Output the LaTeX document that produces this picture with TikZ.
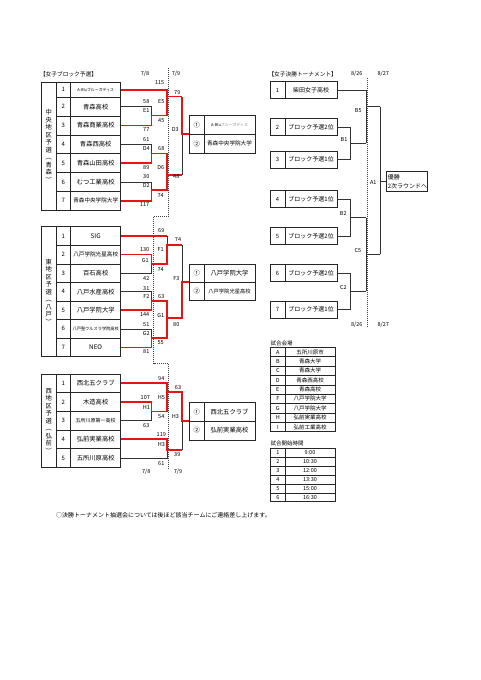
\documentclass[tikz,border=0pt]{standalone}
\usepackage{fontspec}
\setmainfont{Noto Sans CJK JP}
\usetikzlibrary{calc}
\definecolor{winred}{RGB}{232,20,20}
\begin{document}
\begin{tikzpicture}[x=1pt,y=-1pt,
  every node/.style={inner sep=0pt, outer sep=0pt},
  tsize/.style={font=\fontsize{#1}{#1}\selectfont},
  cell/.style={draw=black!85, line width=0.6pt},
  rh/.style={minimum height=#1pt},
  reg/.style={cell, minimum width=14.3pt, align=center, font=\fontsize{6.3}{7.5}\selectfont},
  num/.style={cell, minimum width=14.7pt, tsize=6},
  nm/.style={cell, minimum width=50pt, tsize=6.3},
  rnum/.style={cell, minimum width=14.7pt, tsize=6.3},
  rnm/.style={cell, minimum width=51pt, tsize=6.3},
  fnum/.style={cell, minimum width=15pt, minimum height=17pt, tsize=5.8},
  fnm/.style={cell, minimum width=52.3pt, minimum height=17pt, tsize=6},
  lbl/.style={tsize=5.5},
  hdr/.style={tsize=5.7, anchor=west},
  brk/.style={line width=0.6pt, black!80},
  win/.style={line width=1.8pt, winred},
  dotl/.style={line width=0.7pt, black!75, dash pattern=on 1pt off 1pt}]
\useasboundingbox (0,0) rectangle (481,680);
\fill[white] (0,0) rectangle (481,680);

% column x positions
\coordinate (xa) at (151.5,0);
\coordinate (xb) at (167.3,0);
\coordinate (xc) at (182,0);

% ---------------- headers ----------------
\node[hdr] (h1) at (40,74) {【女子ブロック予選】};
\node[lbl] (d78a) at (145,74.3) {7/8};
\node[lbl] (d79a) at (176,74.3) {7/9};

% date separator
\draw[dotl] (168.3,68) -- (168.3,216.5) -- (153.5,216.5) -- (153.5,363.5) -- (168.3,363.5) -- (168.3,470);

% ---------------- block 1 ----------------
\node[reg, rh=128.1] (r1) at (48.85,146.05) {中\\央\\地\\区\\予\\選\\︵\\青\\森\\︶};
\node[num, rh=15.3] (b1n1) at (63.35,89.65) {1};
\node[nm, rh=15.3, tsize=3.9] (b1t1) at (95.7,89.65) {A-Bluブルーガディス};
\node[num, rh=18.8] (b1n2) at (63.35,106.7) {2};
\node[nm, rh=18.8] (b1t2) at (95.7,106.7) {青森高校};
\node[num, rh=18.8] (b1n3) at (63.35,125.5) {3};
\node[nm, rh=18.8] (b1t3) at (95.7,125.5) {青森商業高校};
\node[num, rh=18.8] (b1n4) at (63.35,144.3) {4};
\node[nm, rh=18.8] (b1t4) at (95.7,144.3) {青森西高校};
\node[num, rh=18.8] (b1n5) at (63.35,163.1) {5};
\node[nm, rh=18.8] (b1t5) at (95.7,163.1) {青森山田高校};
\node[num, rh=18.8] (b1n6) at (63.35,181.9) {6};
\node[nm, rh=18.8] (b1t6) at (95.7,181.9) {むつ工業高校};
\node[num, rh=18.8] (b1n7) at (63.35,200.7) {7};
\node[nm, rh=18.8, tsize=5.6] (b1t7) at (95.7,200.7) {青森中央学院大学};

\node[rnum, rh=18.75] (res1n1) at (196.65,124.875) {①};
\node[rnm, rh=18.75, tsize=3.9] (res1t1) at (229.5,124.875) {A-Blu\textcolor{black!45}{ブルーガディス}};
\node[rnum, rh=18.75] (res1n2) at (196.65,143.625) {②};
\node[rnm, rh=18.75, tsize=5.6] (res1t2) at (229.5,143.625) {青森中央学院大学};

\coordinate (e1) at (151.5,115.5);
\coordinate (e5) at (167.3,96.5);
\coordinate (d4) at (151.5,153.5);
\coordinate (d2) at (151.5,190);
\coordinate (d6) at (167.3,174.7);
\coordinate (d3) at (182,134.25);

\draw[brk] (b1t2.east) -| (xa |- b1t3.east);
\draw[brk] (b1t4.east) -| (xa |- b1t5.east);
\draw[brk] (b1t6.east) -| (xa |- b1t7.east);
\draw[brk] (e5 -| xc) -- (d6 -| xc);
\draw[win] (b1t3.east) -| (e1) -- (e1 -| xb) -- (e5);
\draw[win] (b1t1.east) -| (e5) -- (e5 -| xc);
\draw[win] (b1t5.east) -| (d4) -- (d4 -| xb) -- (d6);
\draw[win] (b1t7.east) -| (d2) -- (d2 -| xb) -- (d6) -- (d6 -| xc);
\draw[win] (e5 -| xc) -- (d3) -- (res1n1.west |- d3);

\node[lbl] (l1a) at (159.7,83) {115};
\node[lbl] (l1b) at (177.3,93) {79};
\node[lbl] (l1c) at (146.3,102) {58};
\node[lbl] (l1d) at (161.3,102) {E5};
\node[lbl] (l1e) at (146.3,110.7) {E1};
\node[lbl] (l1f) at (161.3,120.7) {45};
\node[lbl] (l1g) at (146.3,129.7) {77};
\node[lbl] (l1h) at (175.3,129.7) {D3};
\node[lbl] (l1i) at (146.3,139.7) {61};
\node[lbl] (l1j) at (146.3,148.7) {D4};
\node[lbl] (l1k) at (161.3,148.7) {68};
\node[lbl] (l1l) at (146.3,167.3) {89};
\node[lbl] (l1m) at (160.7,167.3) {D6};
\node[lbl] (l1n) at (176.3,176.3) {48};
\node[lbl] (l1o) at (146.3,176.3) {30};
\node[lbl] (l1p) at (146.3,185.3) {D2};
\node[lbl] (l1q) at (160.7,195.3) {74};
\node[lbl] (l1r) at (144.7,204.7) {117};

% ---------------- block 2 ----------------
\node[reg, rh=130] (r2) at (48.85,291.7) {東\\地\\区\\予\\選\\︵\\八\\戸\\︶};
\node[num, rh=18.57] (b2n1) at (63.35,235.99) {1};
\node[nm, rh=18.57] (b2t1) at (95.7,235.99) {SIG};
\node[num, rh=18.57] (b2n2) at (63.35,254.56) {2};
\node[nm, rh=18.57, tsize=5.6] (b2t2) at (95.7,254.56) {八戸学院光星高校};
\node[num, rh=18.57] (b2n3) at (63.35,273.13) {3};
\node[nm, rh=18.57] (b2t3) at (95.7,273.13) {百石高校};
\node[num, rh=18.57] (b2n4) at (63.35,291.70) {4};
\node[nm, rh=18.57] (b2t4) at (95.7,291.70) {八戸水産高校};
\node[num, rh=18.57] (b2n5) at (63.35,310.27) {5};
\node[nm, rh=18.57] (b2t5) at (95.7,310.27) {八戸学院大学};
\node[num, rh=18.57] (b2n6) at (63.35,328.84) {6};
\node[nm, rh=18.57, tsize=4.2] (b2t6) at (95.7,328.84) {八戸聖ウルスラ学院高校};
\node[num, rh=18.57] (b2n7) at (63.35,347.41) {7};
\node[nm, rh=18.57] (b2t7) at (95.7,347.41) {NEO};

\node[rnum, rh=17.85] (res2n1) at (196.65,273.225) {①};
\node[rnm, rh=17.85] (res2t1) at (229.5,273.225) {八戸学院大学};
\node[rnum, rh=17.85] (res2n2) at (196.65,291.075) {②};
\node[rnm, rh=17.85, tsize=5.3] (res2t2) at (229.5,291.075) {八戸学院光星高校};

\coordinate (g1) at (151.5,263.9);
\coordinate (f1) at (167.3,245);
\coordinate (f2) at (151.5,301);
\coordinate (g2) at (151.5,338.1);
\coordinate (g1p) at (167.3,318.3);
\coordinate (f3) at (182,282.15);

\draw[brk] (b2t3.east) -| (xa |- b2t2.east);
\draw[brk] (xb |- b2t1.east) -- (g1 -| xb);
\draw[brk] (b2t4.east) -| (xa |- b2t5.east);
\draw[brk] (b2t6.east) -| (xa |- b2t7.east);
\draw[brk] (f1 -| xc) -- (g1p -| xc);
\draw[win] (b2t1.east) -- (xb |- b2t1.east);
\draw[win] (b2t2.east) -| (g1) -- (g1 -| xb) -- (f1) -- (f1 -| xc);
\draw[win] (b2t7.east) -| (g2) -- (g2 -| xb) -- (g1p);
\draw[win] (b2t5.east) -| (f2) -- (f2 -| xb) -- (g1p) -- (g1p -| xc) -- (f3) -- (res2n1.west |- f3);

\node[lbl] (l2a) at (161.3,231) {69};
\node[lbl] (l2b) at (178,240) {74};
\node[lbl] (l2c) at (144.7,249.3) {130};
\node[lbl] (l2d) at (160.7,249.3) {F1};
\node[lbl] (l2e) at (145.3,260) {G1};
\node[lbl] (l2f) at (160.7,269.3) {74};
\node[lbl] (l2g) at (146.3,278.3) {42};
\node[lbl] (l2h) at (176.3,278.3) {F3};
\node[lbl] (l2i) at (146.3,288.3) {31};
\node[lbl] (l2j) at (146.3,296.7) {F2};
\node[lbl] (l2k) at (161.3,296.7) {63};
\node[lbl] (l2l) at (144.7,315) {144};
\node[lbl] (l2m) at (160.7,315) {G1};
\node[lbl] (l2n) at (176.3,324.3) {80};
\node[lbl] (l2o) at (146.3,324.3) {51};
\node[lbl] (l2p) at (146.3,333.3) {G2};
\node[lbl] (l2q) at (160.7,342.7) {55};
\node[lbl] (l2r) at (146.3,351.7) {81};

% ---------------- block 3 ----------------
\node[reg, rh=93.3] (r3) at (48.85,420.65) {西\\地\\区\\予\\選\\︵\\弘\\前\\︶};
\node[num, rh=18.66] (b3n1) at (63.35,383.33) {1};
\node[nm, rh=18.66] (b3t1) at (95.7,383.33) {西北五クラブ};
\node[num, rh=18.66] (b3n2) at (63.35,401.99) {2};
\node[nm, rh=18.66] (b3t2) at (95.7,401.99) {木造高校};
\node[num, rh=18.66] (b3n3) at (63.35,420.65) {3};
\node[nm, rh=18.66, tsize=5] (b3t3) at (95.7,420.65) {五所川原第一高校};
\node[num, rh=18.66] (b3n4) at (63.35,439.31) {4};
\node[nm, rh=18.66] (b3t4) at (95.7,439.31) {弘前実業高校};
\node[num, rh=18.66] (b3n5) at (63.35,457.97) {5};
\node[nm, rh=18.66] (b3t5) at (95.7,457.97) {五所川原高校};

\node[rnum, rh=18.85] (res3n1) at (196.65,411.725) {①};
\node[rnm, rh=18.85] (res3t1) at (229.5,411.725) {西北五クラブ};
\node[rnum, rh=18.85] (res3n2) at (196.65,430.575) {②};
\node[rnm, rh=18.85] (res3t2) at (229.5,430.575) {弘前実業高校};

\coordinate (hh1) at (151.5,411.5);
\coordinate (hh5) at (167.3,391.7);
\coordinate (hh3) at (167.3,450);
\coordinate (hh3f) at (182,421.15);

\draw[brk] (b3t3.east) -| (xa |- b3t2.east);
\draw[brk] (b3t5.east) -| (xb |- b3t4.east);
\draw[brk] (hh5 -| xc) -- (hh3 -| xc);
\draw[win] (b3t2.east) -| (hh1) -- (hh1 -| xb) -- (hh5);
\draw[win] (b3t1.east) -| (hh5) -- (hh5 -| xc) -- (hh3f) -- (res3n1.west |- hh3f);
\draw[win] (b3t4.east) -| (hh3) -- (hh3 -| xc);

\node[lbl] (l3a) at (161.3,378.3) {94};
\node[lbl] (l3b) at (178,387.7) {63};
\node[lbl] (l3c) at (145.3,397.7) {107};
\node[lbl] (l3d) at (161.3,397.7) {H5};
\node[lbl] (l3e) at (146.3,407.7) {H1};
\node[lbl] (l3f) at (161.3,416.7) {54};
\node[lbl] (l3g) at (175.3,416.7) {H3};
\node[lbl] (l3h) at (146.3,426) {63};
\node[lbl] (l3i) at (161.3,435) {119};
\node[lbl] (l3j) at (161.3,445) {H3};
\node[lbl] (l3k) at (177.3,454.3) {39};
\node[lbl] (l3l) at (161.3,463.3) {61};
\node[lbl] (d78b) at (146.3,472.3) {7/8};
\node[lbl] (d79b) at (178,472.3) {7/9};

% ---------------- final tournament ----------------
\node[hdr] (h2) at (268.5,74) {【女子決勝トーナメント】};
\node[lbl] (d826a) at (356.7,74) {8/26};
\node[lbl] (d827a) at (383.3,74) {8/27};
\draw[dotl] (367.2,78) -- (367.2,327);

\node[fnum] (fn1) at (277.5,90) {1};
\node[fnm] (fm1) at (311.15,90) {柴田女子高校};
\node[fnum] (fn2) at (277.5,127) {2};
\node[fnm] (fm2) at (311.15,127) {ブロック予選2位};
\node[fnum] (fn3) at (277.5,159.5) {3};
\node[fnm] (fm3) at (311.15,159.5) {ブロック予選1位};
\node[fnum] (fn4) at (277.5,199) {4};
\node[fnm] (fm4) at (311.15,199) {ブロック予選1位};
\node[fnum] (fn5) at (277.5,236) {5};
\node[fnm] (fm5) at (311.15,236) {ブロック予選2位};
\node[fnum] (fn6) at (277.5,273) {6};
\node[fnm] (fm6) at (311.15,273) {ブロック予選2位};
\node[fnum] (fn7) at (277.5,309.5) {7};
\node[fnm] (fm7) at (311.15,309.5) {ブロック予選1位};

\node[cell, anchor=west, minimum width=40.3pt, minimum height=19.3pt, text width=38pt, align=left, font=\fontsize{6}{9}\selectfont] (champ) at (386.7,181.3) {優勝\\2次ラウンドへ};

\coordinate (xq) at (350.7,0);
\coordinate (xr) at (366,0);
\coordinate (xs) at (380,0);
\coordinate (fb1) at (350.7,143.25);
\coordinate (fb5) at (366,106.7);
\coordinate (fb2) at (350.7,217.5);
\coordinate (fc2) at (350.7,291.25);
\coordinate (fc5) at (366,254.3);
\coordinate (fa1) at (380,181.3);

\draw[brk] (fm2.east) -| (xq |- fm3.east) -- (fm3.east);
\draw[brk] (fb1) -- (fb1 -| xr);
\draw[brk] (fm1.east) -| (xr |- fb1);
\draw[brk] (fb5) -- (fb5 -| xs);
\draw[brk] (fm4.east) -| (xq |- fm5.east) -- (fm5.east);
\draw[brk] (fb2) -- (fb2 -| xr);
\draw[brk] (fm6.east) -| (xq |- fm7.east) -- (fm7.east);
\draw[brk] (fc2) -- (fc2 -| xr);
\draw[brk] (fb2 -| xr) -- (fc2 -| xr);
\draw[brk] (fc5) -- (fc5 -| xs);
\draw[brk] (fb5 -| xs) -- (fc5 -| xs);
\draw[brk] (fa1) -- (champ.west);

\node[lbl] (lb5) at (358.3,110.5) {B5};
\node[lbl] (lb1) at (344,139.3) {B1};
\node[lbl] (la1) at (373.3,182.7) {A1};
\node[lbl] (lb2) at (343.3,213.8) {B2};
\node[lbl] (lc2) at (343.3,287.5) {C2};
\node[lbl] (lc5) at (358,250) {C5};
\node[lbl] (d826b) at (356.7,325) {8/26};
\node[lbl] (d827b) at (383.3,325) {8/27};

% ---------------- venues ----------------
\node[hdr, tsize=5.5] (h3) at (270.5,343) {試合会場};
\foreach \L/\N [count=\i] in {A/五所川原市, B/青森大学, C/青森大学, D/青森西高校, E/青森高校, F/八戸学院大学, G/八戸学院大学, H/弘前実業高校, I/弘前工業高校} {
  \node[cell, minimum width=14.3pt, minimum height=9.38pt, tsize=5.5] (vl\i) at (277.85,{347.3+9.38*(\i-0.5)}) {\L};
  \node[cell, minimum width=50pt, minimum height=9.38pt, tsize=5.5] (vn\i) at (310,{347.3+9.38*(\i-0.5)}) {\N};
}

\node[hdr, tsize=5.5] (h4) at (270.5,443.5) {試合開始時間};
\foreach \T [count=\i] in {9:00, 10:30, 12:00, 13:30, 15:00, 16:30} {
  \node[cell, minimum width=14.3pt, minimum height=8.9pt, tsize=5.5] (tl\i) at (277.85,{448.3+8.9*(\i-0.5)}) {\i};
  \node[cell, minimum width=50pt, minimum height=8.9pt, tsize=5.5] (tn\i) at (310,{448.3+8.9*(\i-0.5)}) {\T};
}

% ---------------- footer ----------------
\node[hdr, tsize=6] (foot) at (56,515.5) {○決勝トーナメント抽選会については後ほど該当チームにご連絡差し上げます。};
\end{tikzpicture}
\end{document}
